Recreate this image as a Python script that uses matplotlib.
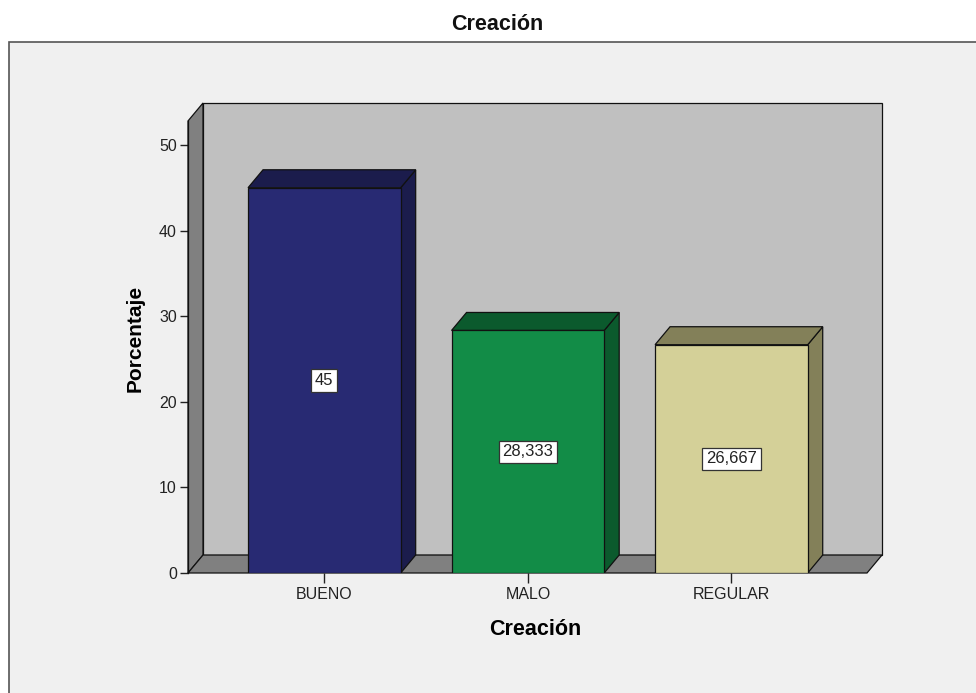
import numpy as np
import matplotlib.pyplot as plt
from matplotlib.patches import Polygon, Rectangle

# Data
categories = ['BUENO', 'MALO', 'REGULAR']
values = [45, 28.333, 26.667]
value_labels = ['45', '28,333', '26,667']
yticks = [0, 10, 20, 30, 40, 50]

front_colors = ['#282a73', '#128c47', '#d4d098']
shade_colors = ['#1b1c4c', '#0b5a2d', '#838059']

plt.rcParams['font.family'] = ['Liberation Sans', 'DejaVu Sans']

W, H = 976, 693
fig = plt.figure(figsize=(W / 100, H / 100), dpi=100)
fig.patch.set_facecolor('white')

# grey panel with border, behind the axes
bg = fig.add_axes([0, 0, 1, 1], zorder=-10)
bg.set_xlim(0, W)
bg.set_ylim(H, 0)
bg.axis('off')
bg.add_patch(Rectangle((9, 42), W + 10, H, facecolor='#f0f0f0',
                       edgecolor='#555555', linewidth=1.2))

# axes: front plane from x=188 to 882, y=573 up to 103
ax = fig.add_axes([188 / W, (H - 573) / H, (882 - 188) / W, (573 - 103) / H])
ax.set_facecolor('none')
ax.set_xlim(-0.67, 2.74)
ax.set_ylim(0, 54.9)

dx = 0.0737   # depth offset in x data units
dy = 2.1      # depth offset in y data units
x_left, x_right = -0.67, 2.74 - dx
ytop = 54.9 - dy
ec = '#111111'
lw = 0.9

# back wall
ax.add_patch(Polygon([(x_left + dx, dy), (x_right + dx, dy), (x_right + dx, ytop + dy),
                      (x_left + dx, ytop + dy)], closed=True, facecolor='#c0c0c0',
                     edgecolor=ec, linewidth=lw, clip_on=False, zorder=1))
# left wall
ax.add_patch(Polygon([(x_left, 0), (x_left + dx, dy), (x_left + dx, ytop + dy),
                      (x_left, ytop)], closed=True, facecolor='#808080',
                     edgecolor=ec, linewidth=lw, clip_on=False, zorder=2))
# floor
ax.add_patch(Polygon([(x_left, 0), (x_right, 0), (x_right + dx, dy), (x_left + dx, dy)],
                     closed=True, facecolor='#808080', edgecolor=ec, linewidth=lw,
                     clip_on=False, zorder=2))

bw = 0.75
x = np.arange(len(categories))
for i, v in enumerate(values):
    x0, x1 = x[i] - bw / 2, x[i] + bw / 2
    # side
    ax.add_patch(Polygon([(x1, 0), (x1 + dx, dy), (x1 + dx, v + dy), (x1, v)],
                         closed=True, facecolor=shade_colors[i], edgecolor=ec,
                         linewidth=lw, zorder=3))
    # top
    ax.add_patch(Polygon([(x0, v), (x0 + dx, v + dy), (x1 + dx, v + dy), (x1, v)],
                         closed=True, facecolor=shade_colors[i], edgecolor=ec,
                         linewidth=lw, zorder=3))
    # front
    ax.add_patch(Rectangle((x0, 0), bw, v, facecolor=front_colors[i], edgecolor=ec,
                           linewidth=lw, zorder=4))
    ax.text(x[i], v / 2, value_labels[i], ha='center', va='center', fontsize=12,
            color='#222222', zorder=5,
            bbox=dict(boxstyle='square,pad=0.22', facecolor='white',
                      edgecolor='#333333', linewidth=0.9))

for s in ['top', 'right', 'bottom']:
    ax.spines[s].set_visible(False)
ax.spines['left'].set_bounds(0, ytop)
ax.spines['left'].set_color(ec)
ax.spines['left'].set_linewidth(lw)
ax.spines['left'].set_zorder(6)

ax.set_yticks(yticks)
ax.set_yticklabels([str(t) for t in yticks])
ax.tick_params(axis='y', length=6, width=1, color='#222222', labelsize=11.5,
               labelcolor='#222222', pad=2)
ax.set_xticks(x)
ax.set_xticklabels(categories)
ax.tick_params(axis='x', length=7, width=1, color='#222222', labelsize=11.5,
               labelcolor='#222222', pad=3)

ax.set_xlabel('Creación', fontsize=15.5, fontweight='bold', labelpad=12)
ax.set_ylabel('Porcentaje', fontsize=15, fontweight='bold', labelpad=10)

fig.text(497 / W, 1 - 24 / H, 'Creación', ha='center', va='center', fontsize=15.5,
         fontweight='bold', color='#111111')

fig.savefig('out.png', dpi=100)
